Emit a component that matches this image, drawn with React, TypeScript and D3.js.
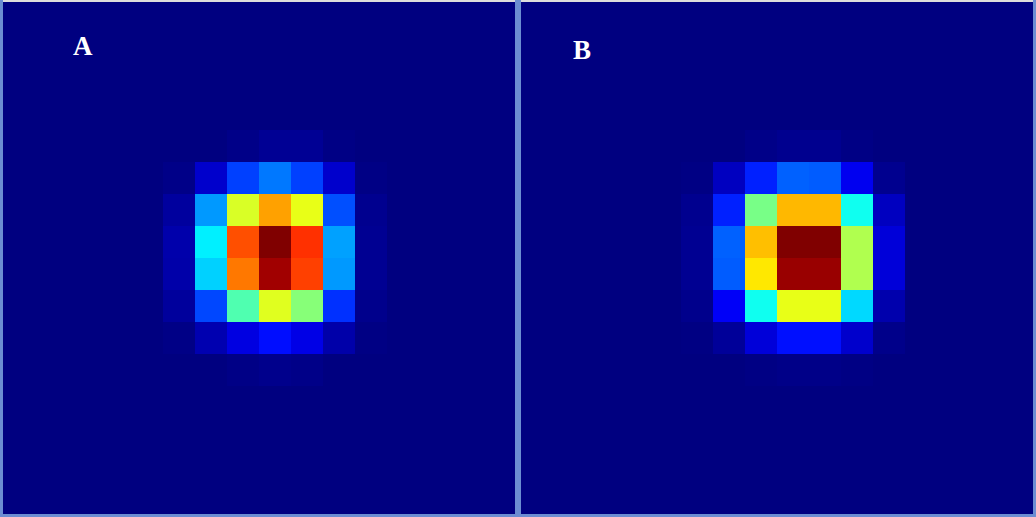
import React from "react";
import * as d3 from "d3";

// Panel labels
const panelLabels: string[] = ["A", "B"];

// 16x16 intensity grids (0 = background, 1 = peak)
const gridA: number[][] = [
  [0, 0, 0, 0, 0, 0, 0, 0, 0, 0, 0, 0, 0, 0, 0, 0],
  [0, 0, 0, 0, 0, 0, 0, 0, 0, 0, 0, 0, 0, 0, 0, 0],
  [0, 0, 0, 0, 0, 0, 0, 0, 0, 0, 0, 0, 0, 0, 0, 0],
  [0, 0, 0, 0, 0, 0, 0, 0, 0, 0, 0, 0, 0, 0, 0, 0],
  [0, 0, 0, 0, 0, 0, 0, 0.008, 0.02, 0.02, 0.005, 0, 0, 0, 0, 0],
  [0, 0, 0, 0, 0, 0.008, 0.075, 0.1875, 0.2425, 0.1875, 0.075, 0.005, 0, 0, 0, 0],
  [0, 0, 0, 0, 0, 0.03, 0.275, 0.5875, 0.7175, 0.6025, 0.2025, 0.015, 0, 0, 0, 0],
  [0, 0, 0, 0, 0, 0.042, 0.36, 0.7975, 1.0, 0.8275, 0.2825, 0.018, 0, 0, 0, 0],
  [0, 0, 0, 0, 0, 0.04, 0.33, 0.7575, 0.9675, 0.8125, 0.275, 0.018, 0, 0, 0, 0],
  [0, 0, 0, 0, 0, 0.028, 0.195, 0.4525, 0.595, 0.5075, 0.1725, 0.012, 0, 0, 0, 0],
  [0, 0, 0, 0, 0, 0.006, 0.0475, 0.095, 0.1375, 0.1, 0.04, 0.004, 0, 0, 0, 0],
  [0, 0, 0, 0, 0, 0, 0, 0.006, 0.012, 0.008, 0, 0, 0, 0, 0, 0],
  [0, 0, 0, 0, 0, 0, 0, 0, 0, 0, 0, 0, 0, 0, 0, 0],
  [0, 0, 0, 0, 0, 0, 0, 0, 0, 0, 0, 0, 0, 0, 0, 0],
  [0, 0, 0, 0, 0, 0, 0, 0, 0, 0, 0, 0, 0, 0, 0, 0],
  [0, 0, 0, 0, 0, 0, 0, 0, 0, 0, 0, 0, 0, 0, 0, 0],
];

const gridB: number[][] = [
  [0, 0, 0, 0, 0, 0, 0, 0, 0, 0, 0, 0, 0, 0, 0, 0],
  [0, 0, 0, 0, 0, 0, 0, 0, 0, 0, 0, 0, 0, 0, 0, 0],
  [0, 0, 0, 0, 0, 0, 0, 0, 0, 0, 0, 0, 0, 0, 0, 0],
  [0, 0, 0, 0, 0, 0, 0, 0, 0, 0, 0, 0, 0, 0, 0, 0],
  [0, 0, 0, 0, 0, 0, 0, 0.008, 0.015, 0.015, 0.005, 0, 0, 0, 0, 0],
  [0, 0, 0, 0, 0, 0.004, 0.0625, 0.156, 0.22, 0.215, 0.11, 0.015, 0, 0, 0, 0],
  [0, 0, 0, 0, 0, 0.015, 0.156, 0.4925, 0.695, 0.695, 0.39, 0.0625, 0, 0, 0, 0],
  [0, 0, 0, 0, 0, 0.018, 0.22, 0.6875, 1.0, 1.0, 0.5475, 0.0875, 0, 0, 0, 0],
  [0, 0, 0, 0, 0, 0.018, 0.215, 0.6475, 0.975, 0.975, 0.5475, 0.0875, 0, 0, 0, 0],
  [0, 0, 0, 0, 0, 0.012, 0.118, 0.39, 0.6025, 0.6025, 0.3375, 0.044, 0, 0, 0, 0],
  [0, 0, 0, 0, 0, 0.003, 0.025, 0.0875, 0.14, 0.14, 0.075, 0.01, 0, 0, 0, 0],
  [0, 0, 0, 0, 0, 0, 0, 0.004, 0.008, 0.008, 0.004, 0, 0, 0, 0, 0],
  [0, 0, 0, 0, 0, 0, 0, 0, 0, 0, 0, 0, 0, 0, 0, 0],
  [0, 0, 0, 0, 0, 0, 0, 0, 0, 0, 0, 0, 0, 0, 0, 0],
  [0, 0, 0, 0, 0, 0, 0, 0, 0, 0, 0, 0, 0, 0, 0, 0],
  [0, 0, 0, 0, 0, 0, 0, 0, 0, 0, 0, 0, 0, 0, 0, 0],
];

// Jet colour map stops
const jetStops: number[] = [0, 0.125, 0.375, 0.625, 0.875, 1];
const jetColors: string[] = ["#000080", "#0000ff", "#00ffff", "#ffff00", "#ff0000", "#800000"];

const W = 1036;
const H = 517;
const PANEL = 512;
const panelX = [3, 521];
const panelY = 2;
const labelOffsets = [
  { x: 70, y: 53 },
  { x: 52, y: 57 },
];

const jet = d3
  .scaleLinear<string>()
  .domain(jetStops)
  .range(jetColors)
  .interpolate(d3.interpolateRgb)
  .clamp(true);

const idx = d3.range(16);
const xScale = d3.scaleBand<number>().domain(idx).range([0, PANEL]);
const yScale = d3.scaleBand<number>().domain(idx).range([0, PANEL]);

function Panel({ grid, x0, label, lo }: { grid: number[][]; x0: number; label: string; lo: { x: number; y: number } }) {
  const cells: React.ReactNode[] = [];
  grid.forEach((row, r) =>
    row.forEach((v, c) => {
      cells.push(
        <rect
          key={`${r}-${c}`}
          x={xScale(c)}
          y={yScale(r)}
          width={xScale.bandwidth()}
          height={yScale.bandwidth()}
          fill={jet(v)}
          shapeRendering="crispEdges"
        />
      );
    })
  );
  return (
    <g transform={`translate(${x0},${panelY})`}>
      <rect x={0} y={-2} width={PANEL} height={2} fill="#dcdcdc" />
      {cells}
      <text
        x={lo.x}
        y={lo.y}
        fill="#ffffff"
        fontFamily="'Liberation Serif', 'Times New Roman', serif"
        fontWeight="bold"
        fontSize={27}
      >
        {label}
      </text>
    </g>
  );
}

export default function App() {
  const grids = [gridA, gridB];
  return (
    <svg
      width={W}
      height={H}
      style={{ position: "absolute", left: 0, top: 0, display: "block" }}
    >
      <rect x={0} y={0} width={W} height={H} fill="#6b8dd2" />
      {grids.map((g, i) => (
        <Panel key={i} grid={g} x0={panelX[i]} label={panelLabels[i]} lo={labelOffsets[i]} />
      ))}
    </svg>
  );
}
